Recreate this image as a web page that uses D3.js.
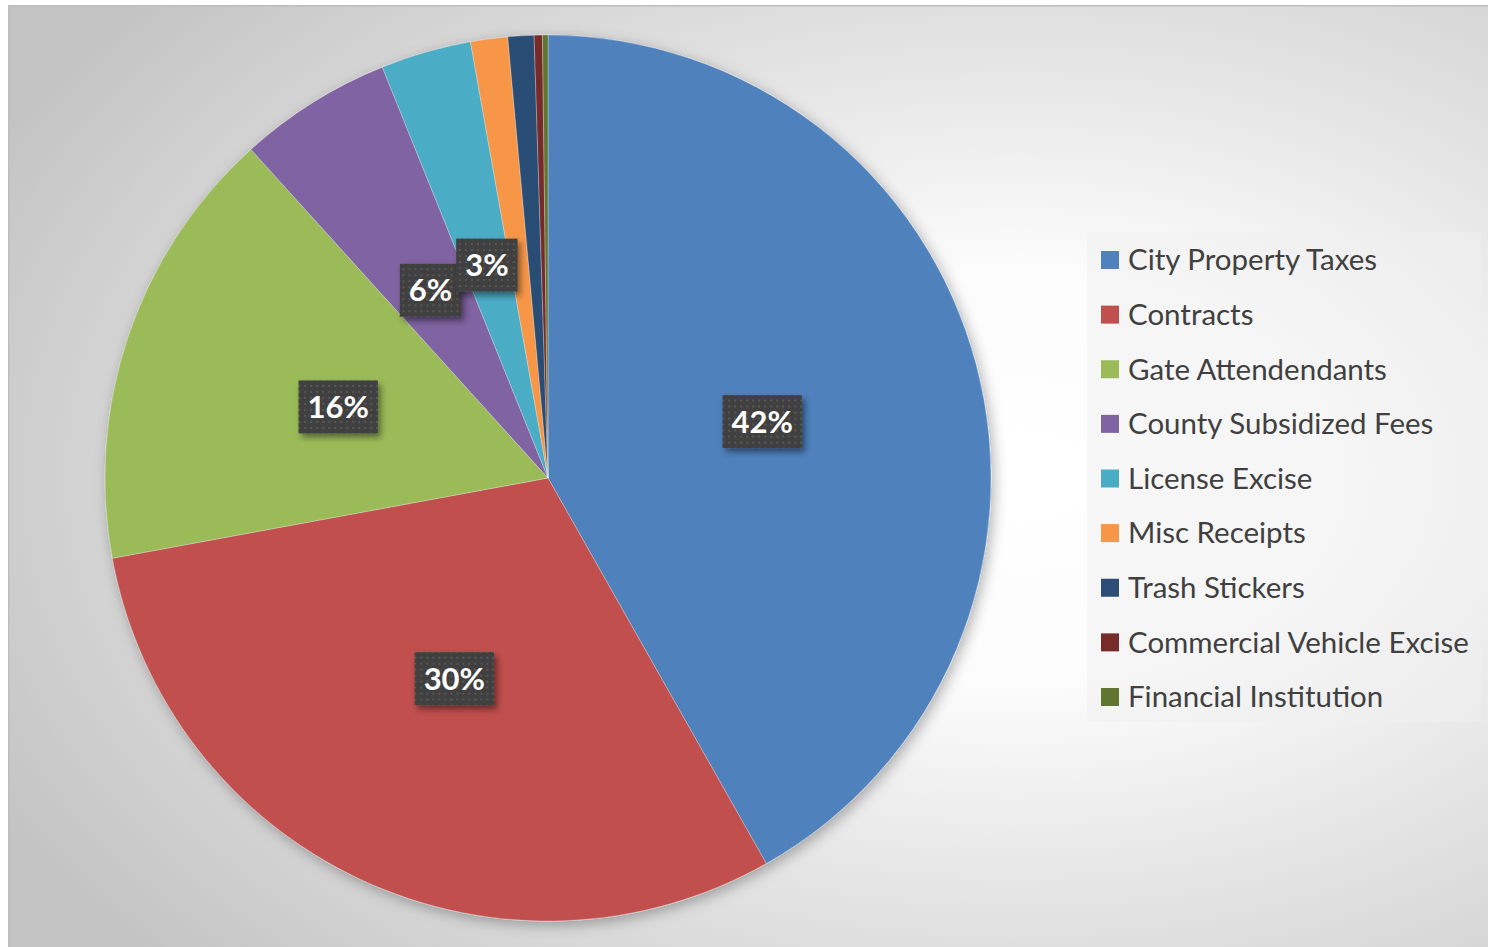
<!DOCTYPE html>
<html>
<head>
<meta charset="utf-8">
<script src="https://cdn.jsdelivr.net/npm/d3@7"></script>
<style>
  html, body { margin: 0; padding: 0; background: #ffffff; }
  svg { display: block; }
</style>
</head>
<body>
<svg id="chart" width="1488" height="947"></svg>
<script>
// ---- data ----
const categories = [
  "City Property Taxes",
  "Contracts",
  "Gate Attendendants",
  "County Subsidized Fees",
  "License Excise",
  "Misc Receipts",
  "Trash Stickers",
  "Commercial Vehicle Excise",
  "Financial Institution"
];
const values = [41.8, 30.3, 16.2, 5.6, 3.3, 1.35, 0.95, 0.3, 0.2];
const colors = ["#4f81bd", "#c0504d", "#9bbb59", "#8064a2", "#4bacc6", "#f79646", "#2c4d75", "#772c2a", "#5f7530"];

// ---- layout ----
const W = 1488, H = 947;
const svg = d3.select("#chart");
const defs = svg.append("defs");

const bg = defs.append("radialGradient")
  .attr("id", "bgGrad")
  .attr("cx", 0.68).attr("cy", 0.5).attr("r", 0.78)
  .attr("fx", 0.68).attr("fy", 0.5);
[[0, "#ffffff"], [0.28, "#fcfcfc"], [0.55, "#e6e6e6"], [0.8, "#d3d3d3"], [1, "#c3c3c3"]]
  .forEach(([o, c]) => bg.append("stop").attr("offset", o).attr("stop-color", c));

const pieShadow = defs.append("filter").attr("id", "pieShadow")
  .attr("x", -0.1).attr("y", -0.1).attr("width", 1.2).attr("height", 1.2);
pieShadow.append("feDropShadow").attr("dx", 3).attr("dy", 4).attr("stdDeviation", 7)
  .attr("flood-color", "#000").attr("flood-opacity", 0.3);

const lblShadow = defs.append("filter").attr("id", "lblShadow")
  .attr("x", -0.3).attr("y", -0.3).attr("width", 1.6).attr("height", 1.6);
lblShadow.append("feDropShadow").attr("dx", 3).attr("dy", 4).attr("stdDeviation", 3)
  .attr("flood-color", "#000").attr("flood-opacity", 0.45);

const pat = defs.append("pattern").attr("id", "dots")
  .attr("patternUnits", "userSpaceOnUse").attr("width", 6).attr("height", 6);
pat.append("rect").attr("width", 6).attr("height", 6).attr("fill", "#404040");
pat.append("rect").attr("x", 2).attr("y", 2).attr("width", 2).attr("height", 2).attr("fill", "#585858");

// chart area
svg.append("rect")
  .attr("x", 8).attr("y", 5).attr("width", W - 8).attr("height", H - 5)
  .attr("fill", "url(#bgGrad)");
svg.append("path")
  .attr("d", `M8.75,${H} V5.75 H${W}`)
  .attr("fill", "none").attr("stroke", "#bdbdbd").attr("stroke-width", 1.5);

// pie
const cx = 548, cy = 478, R = 443;
const pie = d3.pie().sort(null).value(d => d.v);
const data = categories.map((c, i) => ({ name: c, v: values[i], color: colors[i] }));
const arcs = pie(data);
const total = d3.sum(values);
const arc = d3.arc().innerRadius(0).outerRadius(R);
const labelArc = d3.arc().innerRadius(R * 0.5).outerRadius(R * 0.5);

const g = svg.append("g").attr("transform", `translate(${cx},${cy})`);
g.append("g").attr("filter", "url(#pieShadow)")
  .selectAll("path").data(arcs).join("path")
  .attr("d", arc)
  .attr("fill", d => d.data.color)
  .attr("stroke", "#ffffff").attr("stroke-opacity", 0.35).attr("stroke-width", 0.8);

// data labels
const labelFont = "Lato, 'Open Sans', sans-serif";
const lg = g.append("g");
arcs.filter(d => d.data.v / total >= 0.02).forEach(d => {
  const [x, y] = labelArc.centroid(d);
  const txt = Math.round(d.data.v / total * 100) + "%";
  const grp = lg.append("g").attr("transform", `translate(${x},${y})`);
  const rect = grp.append("rect").attr("fill", "url(#dots)").attr("filter", "url(#lblShadow)");
  const t = grp.append("text")
    .attr("text-anchor", "middle").attr("dy", "0.36em")
    .attr("fill", "#ffffff").attr("font-family", labelFont).attr("font-weight", 700)
    .attr("font-size", 31).text(txt);
  const w = t.node().getComputedTextLength();
  const bw = w + 18, bh = 53;
  rect.attr("x", -bw / 2).attr("y", -bh / 2).attr("width", bw).attr("height", bh);
});

// legend
const legX = 1087, legY = 232, legW = 394, legH = 490;
svg.append("rect").attr("x", legX).attr("y", legY).attr("width", legW).attr("height", legH)
  .attr("fill", "#f0f0f0").attr("fill-opacity", 0.5);
const legFont = "Lato, 'Open Sans', sans-serif";
const rowY = d3.scaleLinear().domain([0, categories.length - 1]).range([260, 697]);
const leg = svg.append("g");
const items = leg.selectAll("g").data(data).join("g")
  .attr("transform", (d, i) => `translate(1101,${rowY(i)})`);
items.append("rect").attr("x", 0).attr("y", -9).attr("width", 18).attr("height", 18)
  .attr("fill", d => d.color);
const texts = items.append("text").attr("x", 27).attr("dy", "0.35em")
  .attr("fill", "#404040").attr("font-family", legFont).attr("font-size", 100)
  .text(d => d.name);
// fit font size so longest label matches reference width
const longest = d3.max(texts.nodes(), n => n.getComputedTextLength());
texts.attr("font-size", 100 * 341 / longest);
</script>
</body>
</html>
